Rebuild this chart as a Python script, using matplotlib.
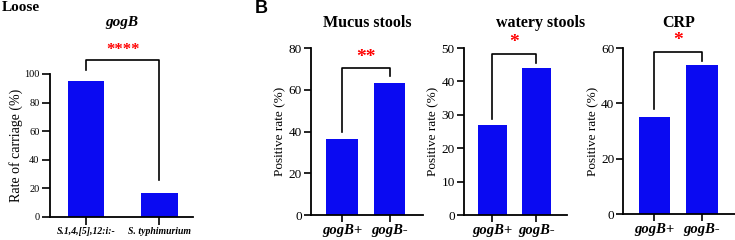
import matplotlib
matplotlib.use("Agg")
import matplotlib.pyplot as plt

plt.rcParams['font.family'] = ['Liberation Serif', 'DejaVu Serif']

# panel A
carriage_groups = ["S.1,4,[5],12:i:-", "S. typhimurium"]
carriage_rate = [95, 16.5]

# panel B
gog_groups = ["gogB+", "gogB-"]
mucus = [36.5, 63.3]
watery = [27, 44]
crp = [35, 53.8]

BLUE = "#0a0af2"


def style_axis(ax, size, tlen=5):
    ax.spines['top'].set_visible(False)
    ax.spines['right'].set_visible(False)
    ax.spines['left'].set_linewidth(1.3)
    ax.spines['bottom'].set_linewidth(1.3)
    ax.tick_params(axis='both', direction='out', length=tlen, width=1.2, labelsize=size, pad=1.5)


def bracket(ax, y_left, y_top, y_right, stars, star_y, size=14):
    ax.plot([0, 0, 1, 1], [y_left, y_top, y_top, y_right], color='black', lw=1.2, clip_on=False)
    ax.text(0.5, star_y, stars, color='red', ha='center', va='center', fontsize=size,
            fontweight='bold', clip_on=False)


fig = plt.figure(figsize=(7.35, 2.4), dpi=100)

# ---- A ----
axA = fig.add_axes([0.068, 0.096, 0.195, 0.596])
axA.bar([0, 1], carriage_rate, width=0.49, color=BLUE)
axA.set_xlim(-0.49, 1.46)
axA.set_ylim(0, 100)
axA.set_yticks([0, 20, 40, 60, 80, 100])
axA.set_xticks([0, 1])
style_axis(axA, 7.5, tlen=6)
axA.set_xticklabels(carriage_groups, fontstyle='italic', fontweight='bold', fontsize=7)
axA.set_ylabel("Rate of carriage (%)", fontsize=10, labelpad=1)
bracket(axA, 103, 110, 26, "****", 117, size=12)
fig.text(0.166, 0.905, "gogB", ha='center', va='center', fontsize=11,
         fontweight='bold', fontstyle='italic')
fig.text(0.003, 0.97, "Loose", ha='left', va='center', fontsize=11, fontweight='bold')

# ---- B ----
panels = [
    ("Mucus stools", mucus, [0.423, 0.104, 0.152, 0.696], 80, [0, 20, 40, 60, 80],
     (39.7, 70.3, 66.5), "**", 75.6, 0.499),
    ("watery stools", watery, [0.631, 0.104, 0.140, 0.696], 50, [0, 10, 20, 30, 40, 50],
     (28.7, 48.3, 45.5), "*", 51.5, 0.736),
    ("CRP", crp, [0.848, 0.108, 0.152, 0.692], 60, [0, 20, 40, 60],
     (38, 58.5, 55.2), "*", 62.8, 0.923),
]

for title, vals, pos, ymax, yt, (yl, ytop, yr), stars, sy, tx in panels:
    ax = fig.add_axes(pos)
    ax.bar([0, 1], vals, width=0.66, color=BLUE)
    ax.set_xlim(-0.65, 1.69)
    ax.set_ylim(0, ymax)
    ax.set_yticks(yt)
    ax.set_xticks([0, 1])
    style_axis(ax, 9.5)
    ax.set_xticklabels(gog_groups, fontstyle='italic', fontweight='bold', fontsize=10.5)
    ax.set_ylabel("Positive rate (%)", fontsize=9.5, labelpad=1.5)
    bracket(ax, yl, ytop, yr, stars, sy)
    fig.text(tx, 0.905, title, ha='center', va='center', fontsize=11.5,
             fontweight='bold')

fig.text(0.347, 0.965, "B", ha='left', va='center', fontsize=13, fontweight='bold',
         family='Liberation Sans')

fig.savefig("out.png", dpi=100)
